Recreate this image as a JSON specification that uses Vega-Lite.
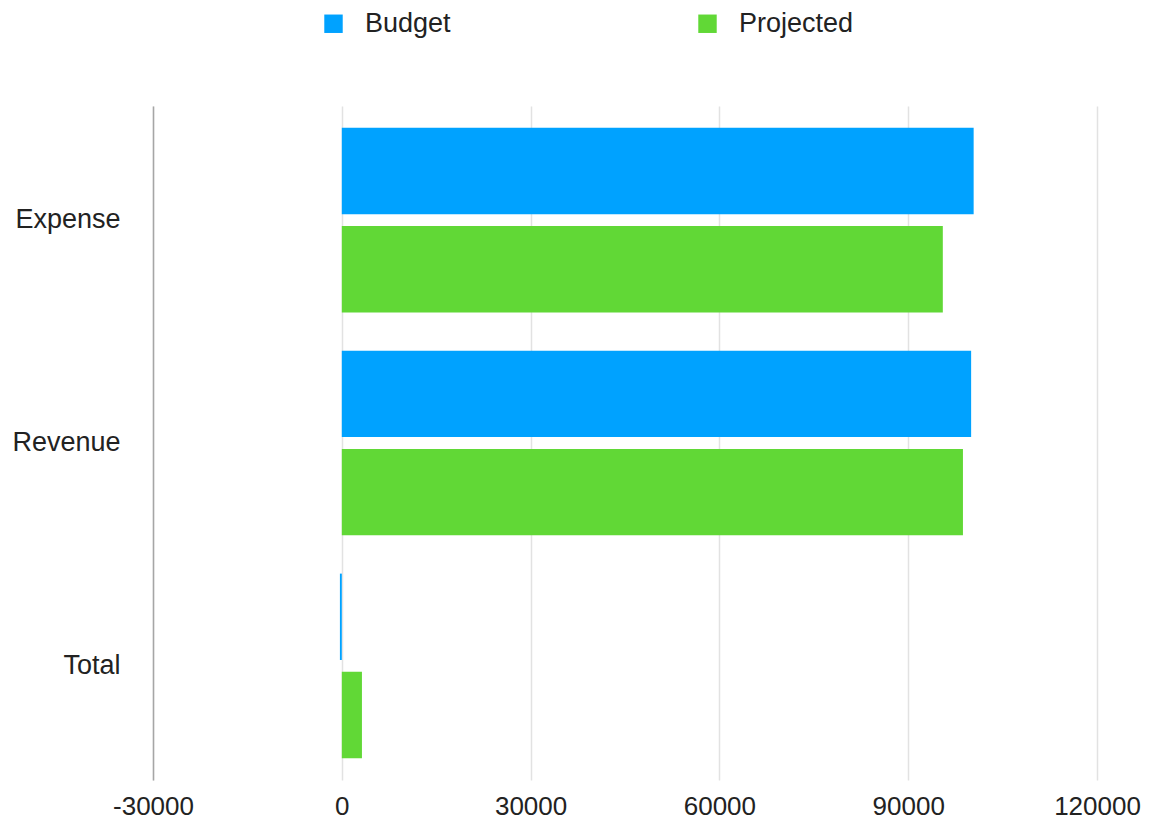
{
  "$schema": "https://vega.github.io/schema/vega-lite/v6.json",
  "autosize": {"type": "none"},
  "padding": {"left": 153, "top": 106, "right": 53, "bottom": 45},
  "width": 944,
  "height": 674,
  "background": "white",
  "config": {
    "view": {"stroke": null},
    "font": "Liberation Sans"
  },
  "data": {
    "values": [
      {"category": "Expense", "series": "Budget", "value": 100400},
      {"category": "Expense", "series": "Projected", "value": 95500},
      {"category": "Revenue", "series": "Budget", "value": 100000},
      {"category": "Revenue", "series": "Projected", "value": 98700},
      {"category": "Total", "series": "Budget", "value": -300},
      {"category": "Total", "series": "Projected", "value": 3200}
    ]
  },
  "mark": {"type": "bar", "cornerRadius": 0},
  "encoding": {
    "y": {
      "field": "category",
      "type": "nominal",
      "sort": ["Expense", "Revenue", "Total"],
      "scale": {"paddingInner": 0.172, "paddingOuter": 0.098},
      "axis": {
        "title": null,
        "ticks": false,
        "domain": true,
        "domainColor": "#a6a6a6",
        "domainWidth": 1.5,
        "labelFont": "Liberation Sans",
        "labelFontSize": 27,
        "labelColor": "#222222",
        "labelPadding": 33,
        "grid": false
      }
    },
    "yOffset": {
      "field": "series",
      "type": "nominal",
      "sort": ["Budget", "Projected"],
      "scale": {"paddingInner": 0.12, "paddingOuter": 0}
    },
    "x": {
      "field": "value",
      "type": "quantitative",
      "scale": {"domain": [-30000, 120000], "nice": false, "zero": false},
      "axis": {
        "title": null,
        "values": [-30000, 0, 30000, 60000, 90000, 120000],
        "labelExpr": "'' + datum.value",
        "ticks": false,
        "domain": false,
        "grid": true,
        "gridColor": "#e2e2e2",
        "gridWidth": 1.5,
        "labelFont": "Liberation Sans",
        "labelFontSize": 26,
        "labelColor": "#222222",
        "labelPadding": 13,
        "labelFlush": false
      }
    },
    "color": {
      "field": "series",
      "type": "nominal",
      "sort": ["Budget", "Projected"],
      "scale": {"domain": ["Budget", "Projected"], "range": ["#00A2FF", "#61D836"]},
      "legend": {
        "title": null,
        "orient": "none",
        "direction": "horizontal",
        "legendX": 167,
        "legendY": -96,
        "padding": 0,
        "symbolType": "square",
        "symbolSize": 340,
        "symbolStrokeWidth": 0,
        "labelFont": "Liberation Sans",
        "labelFontSize": 27,
        "labelColor": "#222222",
        "labelOffset": 18,
        "columnPadding": 243
      }
    }
  }
}
